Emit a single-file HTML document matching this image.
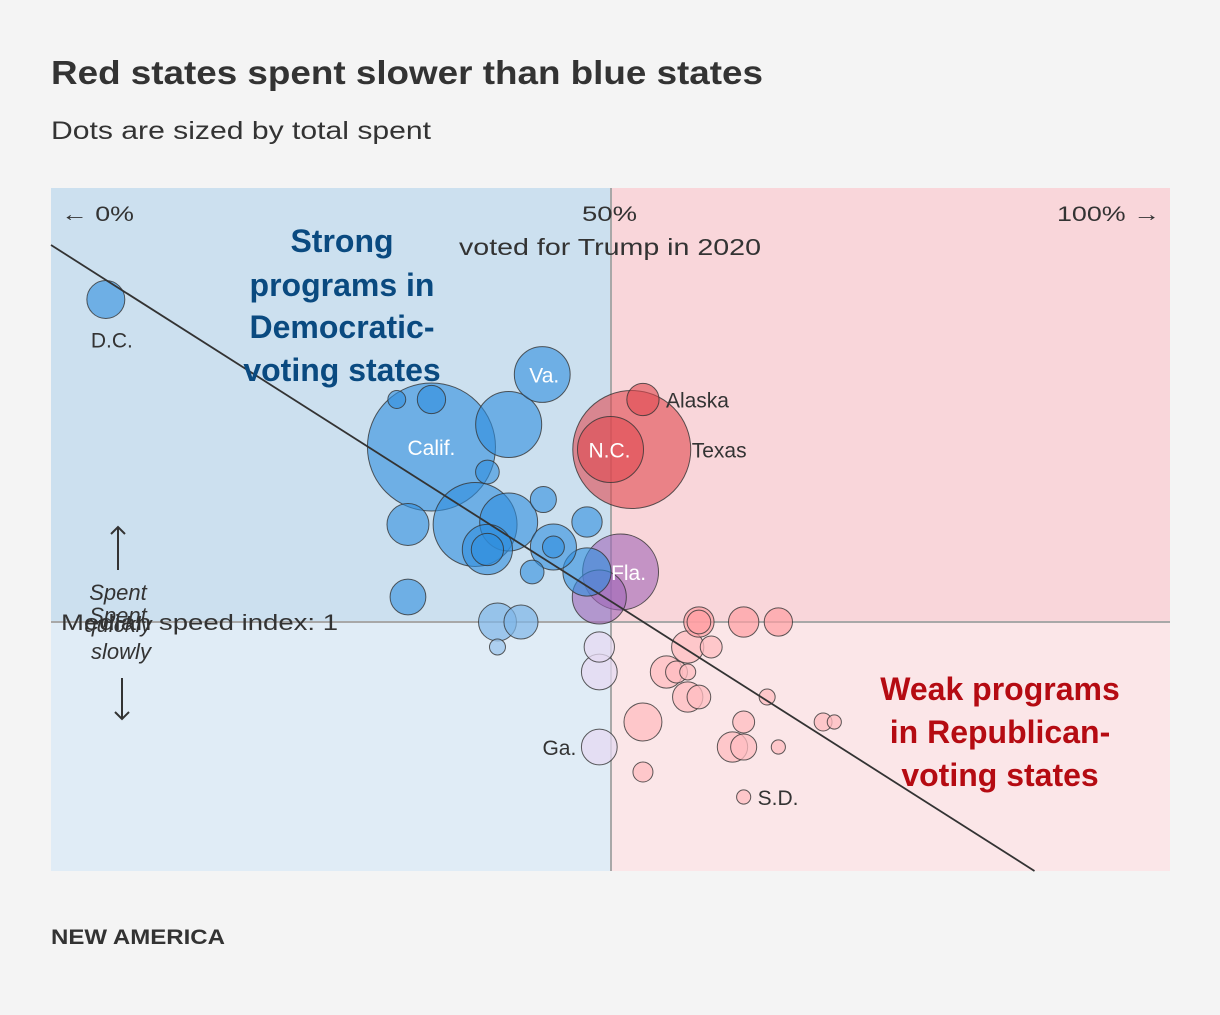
<!DOCTYPE html>
<html><head><meta charset="utf-8"><style>
html,body{margin:0;padding:0;background:#f4f4f4;}
body{width:1220px;height:1010px;overflow:hidden;font-family:"Liberation Sans",sans-serif;}
svg text{font-family:"Liberation Sans",sans-serif;}
</style></head><body>
<svg id="chart" width="1220" height="1010" viewBox="0 0 1220 1010" xmlns="http://www.w3.org/2000/svg">
<text x="51" y="84" font-size="33" font-weight="bold" fill="#333" textLength="712" lengthAdjust="spacingAndGlyphs">Red states spent slower than blue states</text>
<text x="51" y="139" font-size="25" fill="#333" textLength="380" lengthAdjust="spacingAndGlyphs">Dots are sized by total spent</text>
<rect x="51" y="188" width="560" height="434" fill="#cce0ef"/>
<rect x="51" y="622" width="560" height="249" fill="#e0ecf6"/>
<rect x="611" y="188" width="559" height="434" fill="#f9d6da"/>
<rect x="611" y="622" width="559" height="249" fill="#fbe6e8"/>
<line x1="611" y1="188" x2="611" y2="871" stroke="#a8a8a8" stroke-width="2"/>
<line x1="51" y1="622" x2="1170" y2="622" stroke="#a8a8a8" stroke-width="2"/>
<g id="dots"></g>
<g id="labels"></g>
<text x="61" y="221" font-size="21" fill="#333" textLength="73" lengthAdjust="spacingAndGlyphs">← 0%</text>
<text x="582" y="221" font-size="21" fill="#333" textLength="55" lengthAdjust="spacingAndGlyphs">50%</text>
<text x="1057" y="221" font-size="21" fill="#333" textLength="103" lengthAdjust="spacingAndGlyphs">100% →</text>
<text x="459" y="255" font-size="23" fill="#333" textLength="302" lengthAdjust="spacingAndGlyphs">voted for Trump in 2020</text>
<g font-size="32" font-weight="bold" fill="#0a4a80" text-anchor="middle">
<text x="342" y="252">Strong</text><text x="342" y="296">programs in</text><text x="342" y="338">Democratic-</text><text x="342" y="381">voting states</text></g>
<g font-size="32" font-weight="bold" fill="#b50b12" text-anchor="middle">
<text x="1000" y="700">Weak programs</text><text x="1000" y="743">in Republican-</text><text x="1000" y="786">voting states</text></g>
<g fill="#333" font-size="22" font-style="italic" text-anchor="middle">
<text x="118" y="600">Spent</text><text x="118" y="632">quickly</text><text x="118" y="623">Spent</text><text x="121" y="659">slowly</text></g>
<text x="61" y="630" font-size="22" fill="#333" textLength="277" lengthAdjust="spacingAndGlyphs">Median speed index: 1</text>
<g stroke="#333" stroke-width="2" fill="none">
<path d="M118 570V527M111 534L118 527L125 534"/><path d="M122 678V719M115 712L122 719L129 712"/></g>
<text x="51" y="944" font-size="21" font-weight="bold" fill="#333" textLength="174" lengthAdjust="spacingAndGlyphs">NEW AMERICA</text>
</svg>
<script>
// Trump vote share (%), speed index, total spent, party category, label
const states = ["D.C.","a","b","Calif.","c","Va.","d","e","f","g","h","i","i2","j","j2","k","l","m","n","o","p","q","Fla.","r","s","t","Ga.","N.C.","Texas","Alaska","u","u2","v","w","x","y","z","aa","ab","ac","ad","ae","af","ag","ah","ai","aj","ak","al","am","S.D."];
const trumpPct = [4.9,30.9,34.0,34.0,40.9,43.9,39.0,44.0,31.9,37.9,40.9,39.0,39.0,44.9,44.9,47.9,43.0,47.9,31.9,39.9,42.0,39.9,50.9,49.0,49.0,49.0,49.0,50.0,51.9,52.9,57.9,57.9,61.9,65.0,56.9,59.0,55.0,55.9,56.9,56.9,57.9,64.0,52.9,61.9,69.0,70.0,60.9,61.9,65.0,52.9,61.9];
const speedIndex = [2.29,1.89,1.89,1.70,1.79,1.99,1.60,1.49,1.39,1.39,1.40,1.29,1.29,1.30,1.30,1.40,1.20,1.20,1.10,1.0,1.0,0.90,1.20,1.10,0.90,0.80,0.50,1.69,1.69,1.89,1.0,1.0,1.0,1.0,0.90,0.90,0.80,0.80,0.80,0.70,0.70,0.70,0.60,0.60,0.60,0.60,0.50,0.50,0.50,0.40,0.30];
const totalSpent = [3.6,0.8,2.0,41,10.9,7.8,1.4,1.7,4.4,17.6,8.4,6.3,2.6,5.3,1.2,2.3,1.4,5.8,3.2,3.6,2.9,0.64,14.4,7.3,2.3,3.2,3.2,10.9,34.8,2.6,2.3,1.4,2.3,2.0,2.6,1.2,2.6,1.2,0.64,2.3,1.4,0.64,3.6,1.2,0.8,0.5,2.3,1.7,0.5,1.0,0.5];
const party = ["d","d","d","d","d","d","d","d","d","d","d","d","d","d","d","d","d","d","d","d","d","d","p","p","p","p","p","r","r","r","r","r","r","r","r","r","r","r","r","r","r","r","r","r","r","r","r","r","r","r","r"];
const trendX = [0,100];
const trendY = [2.508,-0.341];

const X0=51,X1=1170,YTOP=188,YBOT=871;
function xs(p){return X0+(X1-X0)*p/100;}
function ys(v){return 622-(v-1)*250;}
function rs(s){return 10*Math.sqrt(s);}
const colors={d:"#2f8ede",p:"#a065b8",r:"#e04a50"};
const lightColors={d:"#9cc6ec",p:"#e6d9f1",r:"#ffbcc0"};
const NS="http://www.w3.org/2000/svg";
const g=document.getElementById("dots");
const idx=trumpPct.map((_,i)=>i).sort((a,b)=>totalSpent[b]-totalSpent[a]);
idx.forEach(i=>{
  const c=document.createElementNS(NS,"circle");
  c.setAttribute("cx",xs(trumpPct[i]));
  c.setAttribute("cy",ys(speedIndex[i]));
  c.setAttribute("r",rs(totalSpent[i]));
  const v=speedIndex[i];
  if(v>1){c.setAttribute("fill",colors[party[i]]);c.setAttribute("fill-opacity","0.6");}
  else if(v===1){c.setAttribute("fill",party[i]==="r"?"#ff9ea2":"#7fb6e8");c.setAttribute("fill-opacity","0.7");}
  else{c.setAttribute("fill",lightColors[party[i]]);c.setAttribute("fill-opacity","0.75");}
  c.setAttribute("stroke","#333");c.setAttribute("stroke-width","1");c.setAttribute("stroke-opacity","0.8");
  
  
  g.appendChild(c);
});
(function(){
  const slope=(trendY[1]-trendY[0])/(trendX[1]-trendX[0]);
  const vb=1-(YBOT-622)/250;
  const pEnd=trendX[0]+(vb-trendY[0])/slope;
  const l=document.createElementNS(NS,"line");
  l.setAttribute("x1",xs(trendX[0]));l.setAttribute("y1",ys(trendY[0]));
  l.setAttribute("x2",xs(pEnd));l.setAttribute("y2",ys(vb));
  l.setAttribute("stroke","#333");l.setAttribute("stroke-width","1.8");
  
  
  g.appendChild(l);
})();
const lab=document.getElementById("labels");
function addLabel(name,dx,dy,anchor,white){
  const i=states.indexOf(name);
  const t=document.createElementNS(NS,"text");
  t.setAttribute("x",xs(trumpPct[i])+dx);t.setAttribute("y",ys(speedIndex[i])+dy);
  t.setAttribute("text-anchor",anchor);t.setAttribute("font-size","21");
  t.setAttribute("fill",white?"#fff":"#333");
  t.textContent=name;
  
  
  lab.appendChild(t);
}
addLabel("Calif.",0,8,"middle",true);
addLabel("Va.",2,8,"middle",true);
addLabel("N.C.",-1,8,"middle",true);
addLabel("Fla.",8,8,"middle",true);
addLabel("D.C.",6,48,"middle",false);
addLabel("Alaska",23,8,"start",false);
addLabel("Texas",60,8,"start",false);
addLabel("Ga.",-23,8,"end",false);
addLabel("S.D.",14,8,"start",false);
</script>
</body></html>
